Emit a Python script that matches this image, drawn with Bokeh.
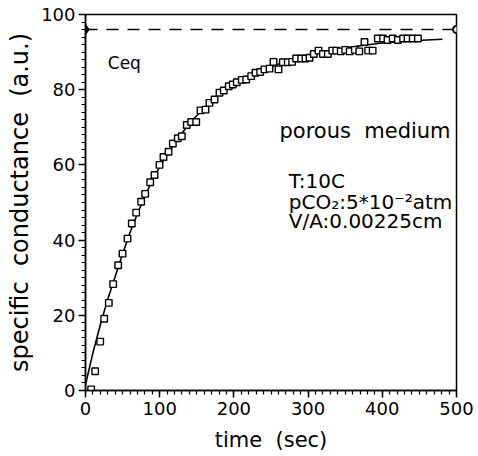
from bokeh.plotting import figure
from bokeh.models import SingleIntervalTicker, ColumnDataSource
from bokeh.core.properties import value
from bokeh.embed import file_html
from bokeh.resources import INLINE

# measured data (time in sec, specific conductance in a.u.)
time_s = [7.6, 13, 19.8, 25.2, 31.4, 37.3, 44, 49.9, 56.6, 62.4, 68.3, 75, 80.4, 87.2, 93,
          99.7, 105.1, 111.9, 117.7, 124.4, 129.8, 136.5, 142.4, 149.2, 155, 161.7, 167.1,
          173.9, 180.6, 186.4, 193.1, 198.5, 203.9, 210.6, 216.6, 223.3, 229.1, 235.4, 241.2,
          248, 253.4, 260.1, 265.9, 272.6, 278.5, 283.9, 290.7, 296.5, 301.9, 307.7, 314,
          319.9, 326.6, 332.5, 337.9, 344, 350, 356, 363, 369, 376, 381, 387, 394, 401, 407,
          414, 421, 428, 434, 441, 448]
conductance = [0.3, 5.1, 13.0, 19.1, 23.3, 28.3, 33.3, 36.4, 40.4, 44.4, 47.3, 50.2, 52.3, 55.4,
               57.3, 60.0, 62.1, 63.5, 65.7, 67.1, 67.6, 70.6, 71.4, 71.4, 74.5, 74.7, 76.5,
               77.4, 79.2, 79.8, 80.9, 81.4, 82.0, 82.6, 82.7, 83.6, 84.5, 84.7, 85.4, 85.6,
               87.4, 85.4, 87.3, 87.3, 87.4, 88.3, 88.3, 88.3, 88.5, 89.5, 90.4, 89.5, 89.5,
               90.4, 90.4, 90.2, 90.6, 90.2, 90.6, 90.2, 92.7, 90.4, 90.4, 93.6, 93.6, 93.2,
               93.6, 93.2, 93.6, 93.6, 93.6, 93.6]

# fitted curve
fit_time = [0, 10, 20, 30, 40, 50, 60, 70, 80, 90, 100, 120, 140, 160, 180, 200, 220, 250,
            280, 310, 340, 370, 400, 430, 460, 481]
fit_cond = [1.5, 10, 17.5, 24.3, 30.3, 36.3, 42, 47, 51.7, 55.8, 59.5, 65.8, 71, 75.2, 78.6,
            81.3, 83.5, 86.1, 88.1, 89.6, 90.8, 91.7, 92.4, 92.9, 93.2, 93.4]

# equilibrium level
ceq_x = [0, 500]
ceq_y = [96, 96]

SP = "\u00a0\u00a0"
label_ceq = "Ceq"
label_medium = "porous" + SP + "medium"
label_cond = ["T:10C", "pCO\u2082:5*10\u207b\u00b2atm", "V/A:0.00225cm"]
x_title = "time" + SP + "(sec)"
y_title = "specific" + SP + "conductance" + SP + "(a.u.)"

FONT = "DejaVu Sans"

p = figure(width=476, height=454, x_range=(0, 500), y_range=(0, 100),
           output_backend="svg", toolbar_location=None,
           min_border_left=85, min_border_right=20, min_border_top=14, min_border_bottom=64)
p.background_fill_color = "white"
p.border_fill_color = "white"
p.outline_line_color = "black"
p.outline_line_width = 1.5
p.xgrid.visible = False
p.ygrid.visible = False

p.xaxis.ticker = SingleIntervalTicker(interval=100, num_minor_ticks=10)
p.yaxis.ticker = SingleIntervalTicker(interval=20, num_minor_ticks=10)

for ax in (p.xaxis[0], p.yaxis[0]):
    ax.axis_line_width = 1.5
    ax.axis_line_color = "black"
    ax.major_tick_line_color = "black"
    ax.minor_tick_line_color = "black"
    ax.major_tick_line_width = 1.5
    ax.minor_tick_line_width = 1.2
    ax.major_tick_in = 0
    ax.minor_tick_in = 0
    ax.major_tick_out = 7
    ax.minor_tick_out = 4
    ax.major_label_text_font = FONT
    ax.major_label_text_font_size = "18px"
    ax.major_label_text_color = "black"
    ax.axis_label_text_font = FONT
    ax.axis_label_text_font_style = "normal"
    ax.axis_label_text_color = "black"

p.xaxis.axis_label = x_title
p.yaxis.axis_label = y_title
p.xaxis.axis_label_text_font_size = "21px"
p.yaxis.axis_label_text_font_size = "24px"
p.xaxis.major_label_standoff = 4
p.yaxis.major_label_standoff = 3
p.xaxis.axis_label_standoff = 10
p.yaxis.axis_label_standoff = 4

# equilibrium dashed line with end markers
p.line(ceq_x, ceq_y, line_color="black", line_width=1.5, line_dash="12 9")
p.scatter([ceq_x[0]], [ceq_y[0]], marker="diamond", size=11, fill_color="black",
          line_color="black")
p.scatter([ceq_x[1]], [ceq_y[1]], marker="circle", size=7, fill_color="white",
          line_color="black", line_width=2)

# fitted curve
p.line(fit_time, fit_cond, line_color="black", line_width=1.6)

# measurements
src = ColumnDataSource(dict(t=time_s, c=conductance))
p.scatter("t", "c", source=src, marker="square", size=6.5, fill_color="white",
          line_color="black", line_width=1.4)

# annotations
p.text(x=[30], y=[87.2], text=[label_ceq], text_font=value(FONT), text_font_size="17px",
       text_baseline="middle", text_align="left", text_color="black")
p.text(x=[492], y=[69.1], text=[label_medium], text_font=value(FONT), text_font_size="21px",
       text_baseline="middle", text_align="right", text_color="black")
p.text(x=[274, 274, 274], y=[55.8, 50.2, 45.1], text=label_cond, text_font=value(FONT),
       text_font_size="20px", text_baseline="middle", text_align="left", text_color="black")

open("out.html", "w").write(file_html(p, INLINE))
